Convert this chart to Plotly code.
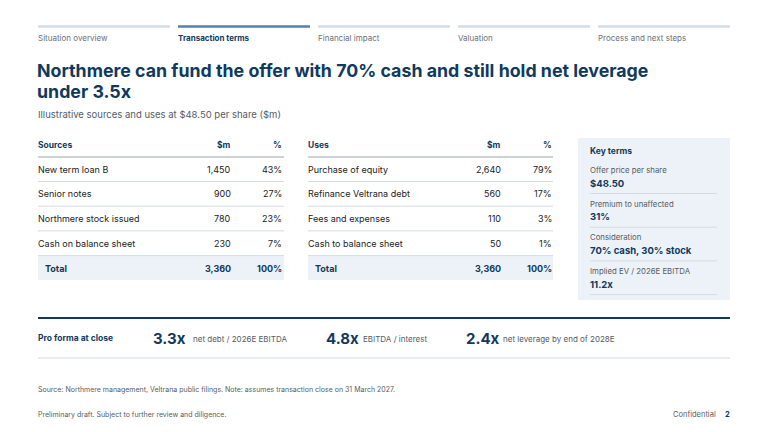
import plotly.graph_objects as go

nav_labels = ["Situation overview", "Transaction terms", "Financial impact", "Valuation", "Process and next steps"]
active_nav = 1
title_lines = ["Northmere can fund the offer with 70% cash and still hold net leverage", "under 3.5x"]
subtitle = "Illustrative sources and uses at $48.50 per share ($m)"

sources_labels = ["New term loan B", "Senior notes", "Northmere stock issued", "Cash on balance sheet"]
sources_values = [1450, 900, 780, 230]
sources_pct = [43, 27, 23, 7]
uses_labels = ["Purchase of equity", "Refinance Veltrana debt", "Fees and expenses", "Cash to balance sheet"]
uses_values = [2640, 560, 110, 50]
uses_pct = [79, 17, 3, 1]

key_labels = ["Offer price per share", "Premium to unaffected", "Consideration", "Implied EV / 2026E EBITDA"]
key_values = ["$48.50", "31%", "70% cash, 30% stock", "11.2x"]

pf_values = ["3.3x", "4.8x", "2.4x"]
pf_desc = ["net debt / 2026E EBITDA", "EBITDA / interest", "net leverage by end of 2028E"]

NAVY = "#0f3a5e"
GRAY = "#555c63"
LINE = "#d5dbe1"
BG = "#edf2f8"
F = "Inter"

fig = go.Figure()
shapes, ann = [], []

def txt(x, y, s, size=8.5, color="#222", bold=False, anchor="left"):
    ann.append(dict(x=x, y=y, text=f"<b>{s}</b>" if bold else s, showarrow=False, xanchor=anchor,
                    yanchor="middle", xshift=-2 if anchor == "left" else 2,
                    font=dict(family=F, size=size, color=color)))

def line(x0, y0, x1, y1, color=LINE, w=1):
    shapes.append(dict(type="line", x0=x0, y0=y0, x1=x1, y1=y1, line=dict(color=color, width=w)))

def rect(x0, y0, x1, y1, color):
    shapes.append(dict(type="rect", x0=x0, y0=y0, x1=x1, y1=y1, fillcolor=color, line=dict(width=0), layer="below"))

for i, lab in enumerate(nav_labels):
    x0 = 38 + i * 140
    line(x0, 26.5, x0 + 132, 26.5, "#5b7fa8" if i == active_nav else "#d3dbe4", 2.5)
    txt(x0, 38, lab, 8, NAVY if i == active_nav else "#6b7178", bold=(i == active_nav))

txt(37, 70, title_lines[0], 17.8, NAVY, True)
txt(37, 91, title_lines[1], 17.8, NAVY, True)
txt(38, 114, subtitle, 9.5, GRAY)

def fmt(v):
    return f"{v:,}"

def table(x0, x1, name, labels, vals, pcts):
    vr, pr = x0 + 193, x0 + 244
    txt(x0, 145, name, 8.5, NAVY, True)
    txt(vr, 145, "$m", 8.5, NAVY, True, "right")
    txt(pr, 145, "%", 8.5, NAVY, True, "right")
    line(x0, 157, x1, 157, "#9aa5b1", 1)
    for i, (l, v, p) in enumerate(zip(labels, vals, pcts)):
        y = 169 + i * 24.7
        txt(x0, y, l, 9, "#222")
        txt(vr, y, fmt(v), 9, "#222", anchor="right")
        txt(pr, y, f"{p}%", 9, "#222", anchor="right")
        line(x0, y + 12.5, x1, y + 12.5)
    rect(x0, 256, x1, 280, BG)
    txt(x0 + 7, 268, "Total", 9, NAVY, True)
    txt(vr, 268, fmt(sum(vals)), 9, NAVY, True, "right")
    txt(pr, 268, f"{sum(pcts)}%", 9, NAVY, True, "right")

table(38, 284, "Sources", sources_labels, sources_values, sources_pct)
table(308, 553, "Uses", uses_labels, uses_values, uses_pct)

rect(578, 138, 730, 300, BG)
txt(590, 151, "Key terms", 8.5, NAVY, True)
for i, (l, v) in enumerate(zip(key_labels, key_values)):
    y = 170 + i * 33.7
    txt(590, y, l, 7.8, GRAY)
    txt(590, y + 13, v, 9.5, NAVY, True)
    line(590, y + 23.5, 717, y + 23.5)

line(38, 318, 730, 318, NAVY, 2)
line(38, 358, 730, 358)
txt(38, 338, "Pro forma at close", 8.5, NAVY, True)
for xv, xd, v, d in zip([153, 326, 466], [193, 363, 503], pf_values, pf_desc):
    txt(xv, 338, v, 15, NAVY, True)
    txt(xd, 339, d, 8, GRAY)

txt(38, 389, "Source: Northmere management, Veltrana public filings. Note: assumes transaction close on 31 March 2027.", 7, GRAY)
txt(38, 414, "Preliminary draft. Subject to further review and diligence.", 7, GRAY)
txt(716, 414, "Confidential", 7.5, GRAY, anchor="right")
txt(730, 414, "2", 7.5, NAVY, True, "right")

fig.update_layout(width=768, height=432, margin=dict(l=0, r=0, t=0, b=0),
                  paper_bgcolor="white", plot_bgcolor="white", shapes=shapes, annotations=ann,
                  xaxis=dict(range=[8, 776], visible=False, fixedrange=True),
                  yaxis=dict(range=[440, 8], visible=False, fixedrange=True), showlegend=False)
fig.write_html("out.html", config={"displayModeBar": False})
